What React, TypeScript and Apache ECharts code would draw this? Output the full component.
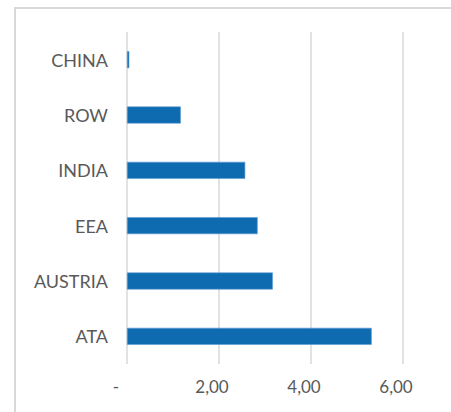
import React, { useEffect, useRef } from "react";
import * as echarts from "echarts";

const categories = ["ATA", "AUSTRIA", "EEA", "INDIA", "ROW", "CHINA"];
const values = [5.32, 3.17, 2.84, 2.57, 1.17, 0.05];
const xTicks = [0, 2, 4, 6];

export default function App() {
  const ref = useRef<HTMLDivElement>(null);
  useEffect(() => {
    if (!ref.current) return;
    const chart = echarts.init(ref.current, undefined, { renderer: "svg" });
    const font = "Lato, 'Open Sans', sans-serif";
    chart.setOption({
      animation: false,
      backgroundColor: "#ffffff",
      graphic: [
        {
          type: "rect",
          shape: { x: 15, y: 8, width: 460, height: 420 },
          style: { fill: "none", stroke: "#d9d9d9", lineWidth: 2 },
          silent: true,
        },
      ],
      grid: { left: 127, right: 48, top: 32, bottom: 48, containLabel: false },
      xAxis: {
        type: "value",
        min: xTicks[0],
        max: xTicks[xTicks.length - 1],
        interval: 2,
        axisLine: { show: false },
        axisTick: { show: false },
        splitLine: { show: true, lineStyle: { color: "#d9d9d9", width: 1.5 } },
        axisLabel: {
          margin: 14,
          fontFamily: font,
          fontSize: 17,
          color: "#595959",
          formatter: (v: number) =>
            v === 0 ? "{z|-}" : "{n|" + v.toFixed(2).replace(".", ",") + "}",
          rich: {
            z: { padding: [0, 22, 0, 0], fontFamily: font, fontSize: 17, color: "#595959" },
            n: { padding: [0, 14, 0, 0], fontFamily: font, fontSize: 17, color: "#595959" },
          },
        },
      },
      yAxis: {
        type: "category",
        data: categories,
        axisLine: { show: false },
        axisTick: { show: false },
        splitLine: { show: false },
        axisLabel: {
          margin: 19,
          fontFamily: font,
          fontSize: 18,
          color: "#595959",
        },
      },
      series: [
        {
          type: "bar",
          data: values,
          barWidth: 17,
          itemStyle: { color: "#0f6bb0", borderColor: "#5a9bd3", borderWidth: 0.6 },
        },
      ],
    });
    return () => chart.dispose();
  }, []);
  return (
    <div
      ref={ref}
      style={{ position: "fixed", left: 0, top: 0, width: 451, height: 412 }}
    />
  );
}
